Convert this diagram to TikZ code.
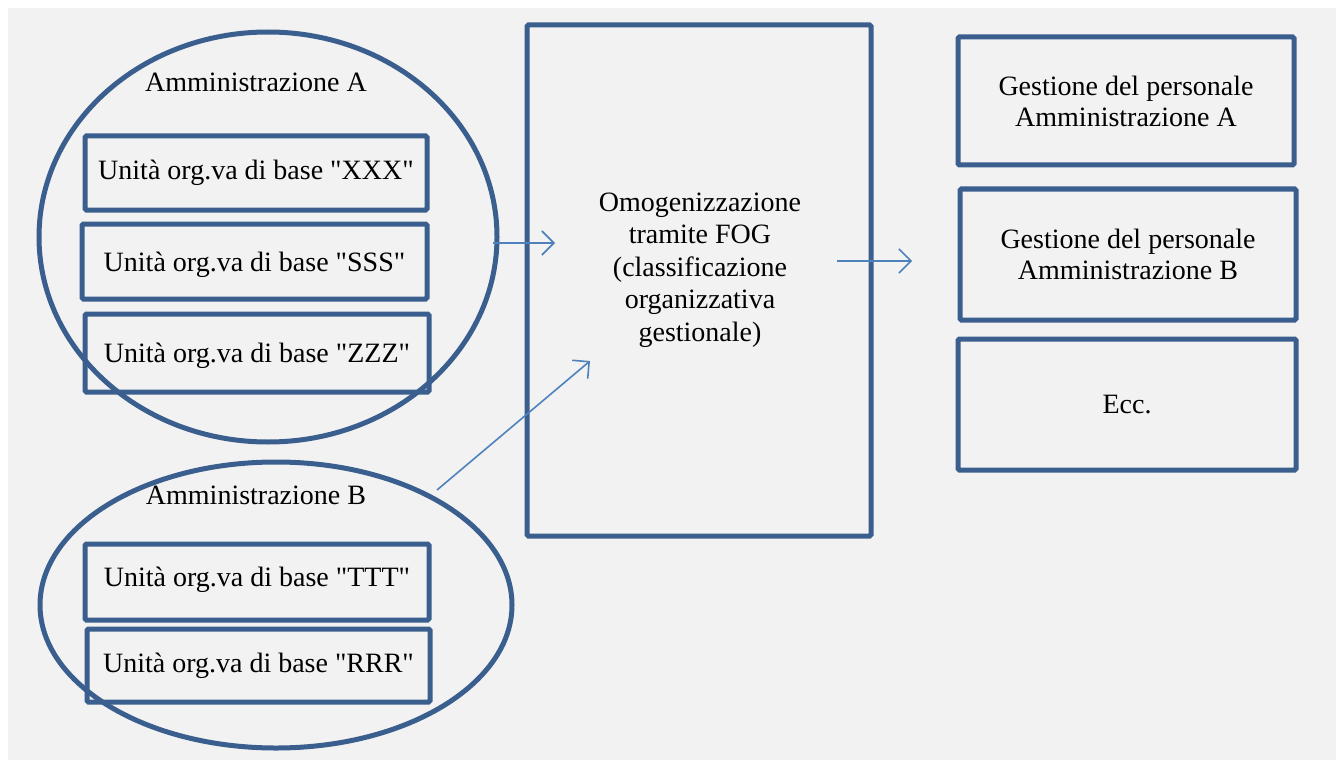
\documentclass[tikz,border=0pt]{standalone}
\usepackage{fontspec}
\setmainfont{Liberation Serif}[Ligatures=TeXOff]
\usetikzlibrary{shapes.geometric,arrows.meta}
\definecolor{boxblue}{HTML}{3A5F8E}
\definecolor{arrblue}{HTML}{4F81BD}
\definecolor{bg}{HTML}{F2F2F2}
\tikzset{
  unitbox/.style={draw=boxblue, line width=5pt, rounded corners=1.5pt, minimum width=#1, minimum height=75pt, inner sep=0pt, font=\fontsize{28}{31}\selectfont, text=black},
  unitbox/.default=343pt,
  admell/.style={draw=boxblue, line width=5pt, ellipse, inner sep=0pt},
  flow/.style={draw=arrblue, line width=1.6pt, -{Straight Barb[length=12pt,width=24pt,line width=1.6pt]}},
  lbl/.style={font=\fontsize{28}{31}\selectfont, text=black, align=center, inner sep=0pt}
}
\begin{document}
\begin{tikzpicture}[x=1pt,y=-1pt]
\useasboundingbox (0,0) rectangle (1340,762);
\fill[bg] (8,8) rectangle (1336,760);
% ellipses
\node[admell, minimum width=458pt, minimum height=410pt] (ellA) at (268,237) {};
\node[admell, minimum width=472pt, minimum height=286pt] (ellB) at (276,605) {};
\node[lbl] (tA) at (256,82) {Amministrazione A};
\node[lbl] (tB) at (256,495) {Amministrazione B};
% unit boxes
\node[unitbox=342pt, minimum height=74pt] (xxx) at (256,173) {Unità org.va di base "XXX"};
\node[unitbox=345pt, minimum height=75pt, text depth=-9pt] (sss) at (254.5,261.5) {Unità org.va di base "SSS"};
\node[unitbox=344pt, minimum height=78pt, text depth=-12pt] (zzz) at (257,353) {Unità org.va di base "ZZZ"};
\node[unitbox=344pt, minimum height=76pt, text depth=10pt] (ttt) at (257,582) {Unità org.va di base "TTT"};
\node[unitbox=343pt, minimum height=73pt] (rrr) at (258.5,665.5) {Unità org.va di base "RRR"};
% central box
\node[draw=boxblue, line width=5pt, rounded corners=1.5pt, minimum width=344pt, minimum height=511pt, inner sep=0pt] (fog) at (699,280.5) {};
\node[lbl, font=\fontsize{28}{32.5}\selectfont] (fogt) at (700,270) {Omogenizzazione\\tramite FOG\\(classificazione\\organizzativa\\gestionale)};
% right boxes
\node[unitbox=336pt, minimum height=128pt, align=center, text depth=-3pt] (ga) at (1126,101) {Gestione del personale\\Amministrazione A};
\node[unitbox=336pt, minimum height=131pt, align=center] (gb) at (1128,254.5) {Gestione del personale\\Amministrazione B};
\node[unitbox=338pt, minimum height=131pt] (ecc) at (1127,404.5) {Ecc.};
% arrows
\coordinate (a1s) at (493,243);
\coordinate (a1e) at (555,243);
\coordinate (a2s) at (837,261);
\coordinate (a2e) at (912,261);
\coordinate (a3s) at (437,490);
\coordinate (a3e) at (590,361);
\draw[flow] (a1s) -- (a1e);
\draw[flow] (a2s) -- (a2e);
\draw[flow] (a3s) -- (a3e);
\end{tikzpicture}
\end{document}
